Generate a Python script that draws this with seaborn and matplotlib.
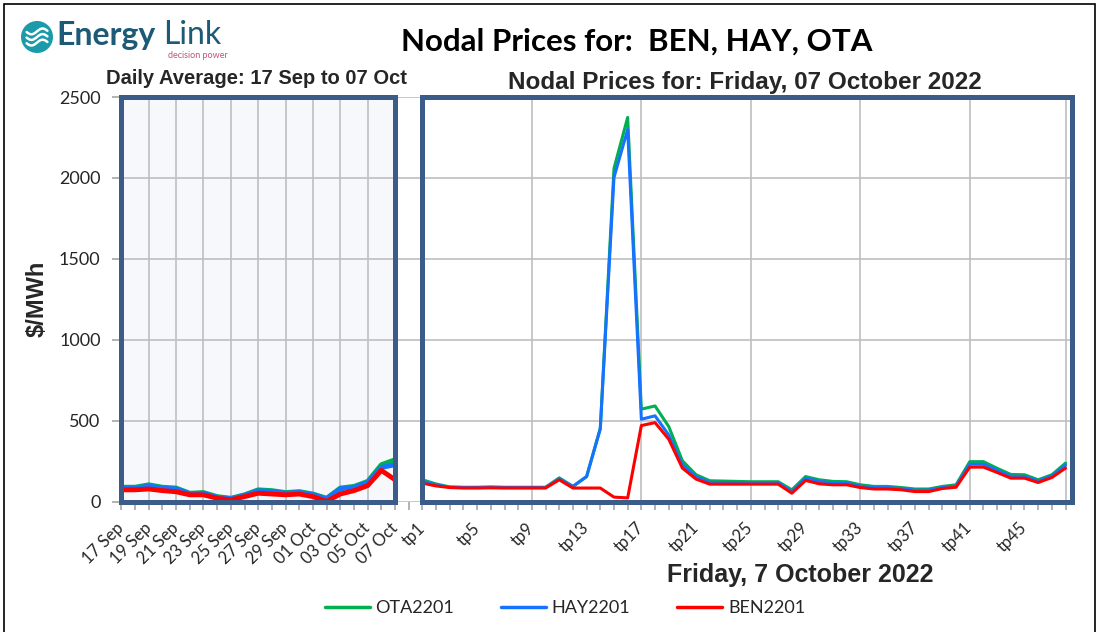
import numpy as np
import pandas as pd
import matplotlib.pyplot as plt
import seaborn as sns
from matplotlib.patches import Rectangle, Ellipse
from matplotlib.lines import Line2D

sns.set_theme(style='white')
plt.rcParams['font.family'] = ['Lato', 'DejaVu Sans']

# ===================== data =====================
dates = ['17 Sep', '18 Sep', '19 Sep', '20 Sep', '21 Sep', '22 Sep', '23 Sep',
         '24 Sep', '25 Sep', '26 Sep', '27 Sep', '28 Sep', '29 Sep', '30 Sep',
         '01 Oct', '02 Oct', '03 Oct', '04 Oct', '05 Oct', '06 Oct', '07 Oct']
daily_ota = [90, 90, 105, 90, 85, 53, 57, 32, 22, 43, 74, 69, 57, 63, 48, 22, 85, 95, 126, 229, 260]
daily_hay = [85, 85, 98, 85, 80, 50, 53, 28, 18, 40, 68, 64, 53, 58, 44, 18, 80, 90, 118, 212, 229]
daily_ben = [74, 74, 79, 69, 62, 43, 43, 22, 12, 32, 53, 48, 43, 48, 32, 3, 48, 69, 100, 194, 136]

periods = ['tp%d' % i for i in range(1, 49)]
tp_ota = [136, 110, 92, 90, 90, 92, 90, 90, 90, 90, 148, 95, 156, 455, 2059, 2374,
          572, 592, 465, 253, 167, 130, 128, 126, 124, 124, 124, 74, 156, 136, 126, 124,
          105, 95, 95, 88, 79, 79, 95, 105, 248, 248, 207, 169, 167, 136, 167, 239]
tp_hay = [128, 104, 90, 88, 88, 89, 88, 88, 88, 88, 142, 95, 156, 450, 2003, 2300,
          510, 531, 413, 228, 155, 120, 119, 118, 117, 117, 117, 64, 146, 126, 116, 115,
          97, 88, 88, 82, 72, 72, 89, 98, 232, 232, 195, 158, 157, 128, 159, 226]
tp_ben = [115, 98, 88, 85, 85, 86, 85, 85, 85, 85, 136, 85, 85, 85, 29, 24,
          471, 489, 387, 208, 140, 109, 109, 109, 109, 109, 109, 53, 132, 111, 105, 105,
          88, 79, 79, 74, 63, 63, 82, 90, 214, 214, 181, 146, 146, 119, 150, 208]

nodes = ['OTA2201', 'HAY2201', 'BEN2201']
colors = {'OTA2201': '#00B050', 'HAY2201': '#1673FF', 'BEN2201': '#FF0000'}
frame_col = '#3B5C88'
grid_col = '#BFBFBF'

daily = pd.DataFrame({'x': np.arange(len(dates)),
                      'OTA2201': daily_ota, 'HAY2201': daily_hay, 'BEN2201': daily_ben})
daily = daily.melt(id_vars='x', var_name='node', value_name='price')

# trading periods sit on the same axis after a one-slot gap
tp = pd.DataFrame({'x': np.arange(len(periods)) + len(dates) + 1,
                   'OTA2201': tp_ota, 'HAY2201': tp_hay, 'BEN2201': tp_ben})
tp = tp.melt(id_vars='x', var_name='node', value_name='price')

x_end = len(dates) + len(periods) + 0.45

# ===================== figure =====================
fig = plt.figure(figsize=(10.99, 6.32), dpi=100)
ax = fig.add_axes([120 / 1099, 1 - 501.8 / 632, 951.7 / 1099, 404.8 / 632])

ax.add_patch(Rectangle((0, 0), len(dates) - 1, 2500, facecolor='#F6F8FC', edgecolor='none', zorder=0.1))

sns.lineplot(data=daily, x='x', y='price', hue='node', hue_order=nodes, palette=colors,
             lw=3.5, legend=False, errorbar=None, ax=ax, zorder=2)
sns.lineplot(data=tp, x='x', y='price', hue='node', hue_order=nodes, palette=colors,
             lw=2.2, legend=False, errorbar=None, ax=ax, zorder=2)

ax.set_xlim(-0.1, x_end)
ax.set_ylim(0, 2500)
ax.set_xlabel('')
ax.set_ylabel('')
for s in ax.spines.values():
    s.set_visible(False)

# grid
ax.yaxis.grid(True, color=grid_col, lw=1.2)
ax.set_axisbelow(True)
tp0 = len(dates) + 1
vgrid = list(range(2, len(dates) - 1, 2)) + [tp0 + k for k in range(8, 48, 8)] + [tp0 + 47]
for v in vgrid:
    ax.axvline(v, color=grid_col, lw=1.2, zorder=0.5)

# panel frames
ax.add_patch(Rectangle((0, 0), len(dates) - 1, 2500, fill=False, edgecolor=frame_col,
                       lw=3.6, zorder=4, clip_on=False))
ax.add_patch(Rectangle((tp0, 0), x_end - tp0, 2500, fill=False, edgecolor=frame_col,
                       lw=3.6, zorder=4, clip_on=False))

# ticks
major_pos = list(range(0, len(dates), 2)) + [tp0 + k for k in range(0, 48, 4)]
major_lab = dates[::2] + periods[::4]
ax.set_xticks(major_pos, major_lab)
ax.set_xticks(np.arange(0, len(dates) + len(periods) + 1), minor=True)
ax.tick_params(axis='x', which='both', bottom=True, length=6, width=1.2, color='#A6A6A6',
               direction='out')
ax.tick_params(axis='x', which='major', labelsize=12, pad=11)
plt.setp(ax.get_xticklabels(), rotation=45, ha='right', va='center', rotation_mode='anchor')
ax.set_yticks(np.arange(0, 2501, 500))
ax.tick_params(axis='y', left=True, length=6, width=1.2, color='#A6A6A6', labelsize=13, pad=8)

# ===================== texts =====================
fig.text(637 / 1099, 1 - 42 / 632, 'Nodal Prices for:  BEN, HAY, OTA', ha='center', va='center',
         fontsize=22.5, fontweight='bold', color='black')
fig.text(256 / 1099, 1 - 78 / 632, 'Daily Average: 17 Sep to 07 Oct', ha='center', va='center',
         fontsize=14.5, fontweight='bold', family=['Liberation Sans'])
fig.text(745 / 1099, 1 - 83 / 632, 'Nodal Prices for: Friday, 07 October 2022', ha='center',
         va='center', fontsize=17.5, fontweight='bold', family=['Liberation Sans'])
fig.text(800 / 1099, 1 - 575 / 632, 'Friday, 7 October 2022', ha='center', va='center',
         fontsize=18, fontweight='bold', family=['Liberation Sans'])
fig.text(37 / 1099, 1 - 299 / 632, '$/MWh', ha='center', va='center', rotation=90,
         fontsize=17, fontweight='bold', family=['Liberation Sans'])

handles = [Line2D([], [], color=colors[n], lw=2.5) for n in nodes]
fig.legend(handles, nodes, loc='center', bbox_to_anchor=(565 / 1099, 1 - 608 / 632), ncol=3,
           frameon=False, fontsize=13, handlelength=2.5, handletextpad=0.3, columnspacing=2.6)

# logo
lax = fig.add_axes([21 / 1099, 1 - 53 / 632, 32 / 1099, 32 / 632])
lax.set_xlim(-1, 1)
lax.set_ylim(-1, 1)
lax.axis('off')
lax.add_patch(Ellipse((0, 0), 2, 2, facecolor='#1B9AAA', edgecolor='none'))
t = np.linspace(-0.65, 0.65, 50)
for off in [-0.35, 0.0, 0.35]:
    lax.plot(t, off + 0.18 * np.sin(t * 4.5), color='white', lw=1.8)
fig.text(56 / 1099, 1 - 35 / 632, 'Energy', ha='left', va='center', fontsize=23,
         fontweight='bold', color='#1D5A78')
fig.text(163 / 1099, 1 - 35 / 632, 'Link', ha='left', va='center', fontsize=23,
         color='#1D5A78')
fig.text(198 / 1099, 1 - 56 / 632, 'decision power', ha='center', va='center', fontsize=6.5,
         color='#C2527E')

# outer border
fig.patches.append(Rectangle((4 / 1099, -0.02), 1091 / 1099, 1 - 4 / 632 + 0.02, fill=False,
                             edgecolor='black', lw=1.2, transform=fig.transFigure, figure=fig))

fig.savefig('out.png', dpi=100)
